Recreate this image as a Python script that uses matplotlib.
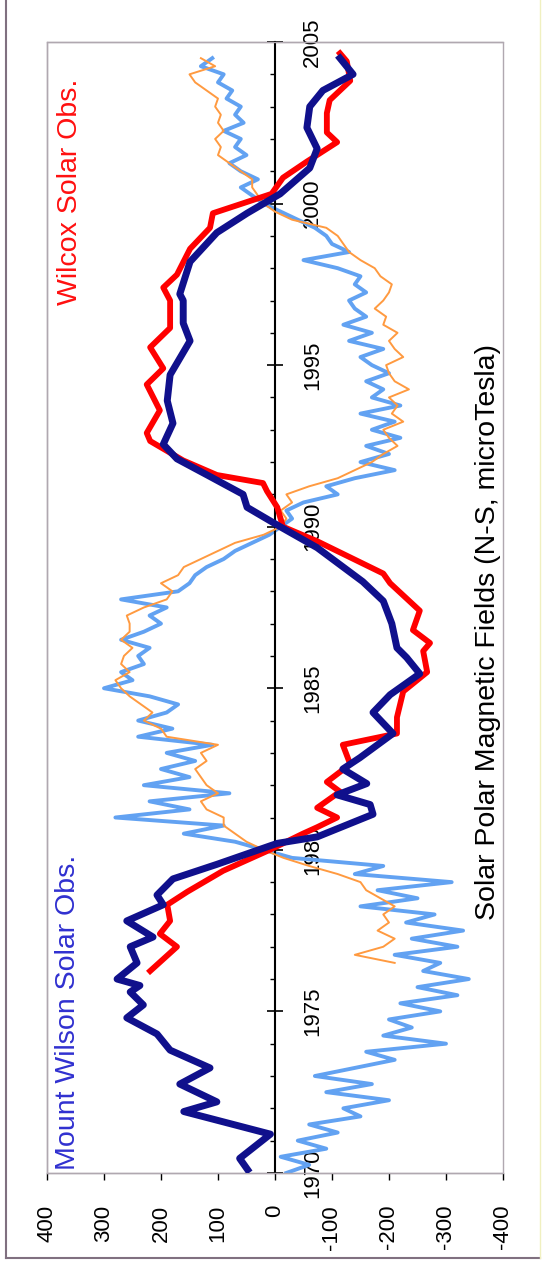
"""
Solar polar magnetic fields, Mount Wilson and Wilcox, drawn upright (time runs bottom to top)
"""
import numpy as np
import matplotlib.pyplot as plt
from matplotlib.lines import Line2D
from matplotlib.patches import Rectangle

plt.rcParams['font.family'] = ['Liberation Sans', 'DejaVu Sans']
plt.rcParams['axes.unicode_minus'] = False

# Mount Wilson, smoothed N-S field
mw_years = [1970.1, 1970.45, 1971.2, 1971.9, 1972.2, 1972.75, 1973.25, 1973.8, 1974.3, 1974.8,
            1975.2, 1975.6, 1975.8, 1976.0, 1976.5, 1977.0, 1977.3, 1977.8, 1978.3, 1978.6,
            1979.1, 1979.55, 1980.2, 1980.4, 1981.1, 1981.4, 1981.7, 1982.05, 1982.5, 1982.85,
            1983.6, 1984.25, 1984.8, 1985.45, 1985.95, 1986.25, 1987.0, 1987.7, 1988.3, 1989.35,
            1990.0, 1990.6, 1991.0, 1991.6, 1992.1, 1992.55, 1993.2, 1993.9, 1994.7, 1995.75,
            1996.3, 1997.0, 1997.2, 1998.2, 1999.1, 1999.7, 2000.3, 2001.1, 2001.7, 2002.35,
            2003.0, 2003.5, 2004.0, 2004.5]
mw_smooth = [48, 62, 8, 160, 102, 167, 114, 184, 207, 260,
             231, 254, 237, 277, 242, 254, 214, 260, 196, 207,
             179, 102, -4, -74, -172, -167, -109, -161, -119, -149,
             -207, -172, -202, -254, -231, -214, -205, -190, -154, -74,
             -9, 49, 56, 119, 172, 196, 179, 189, 184, 149,
             161, 161, 167, 149, 102, 49, -9, -61, -74, -56,
             -61, -84, -137, -114]

# Wilcox, smoothed N-S field
wso_years = [1976.25, 1977.0, 1977.4, 1977.8, 1978.3, 1978.7, 1979.35, 1980.0, 1980.5, 1980.7,
             1981.0, 1981.3, 1981.8, 1982.1, 1982.65, 1983.25, 1983.6, 1984.1, 1984.9, 1985.5,
             1986.15, 1986.4, 1986.8, 1987.4, 1988.25, 1988.55, 1989.05, 1989.55, 1990.0, 1990.6,
             1991.1, 1991.35, 1991.6, 1992.05, 1992.65, 1992.9, 1993.6, 1994.4, 1994.9, 1995.55,
             1996.15, 1997.0, 1997.4, 1997.8, 1998.6, 1999.25, 1999.7, 2000.3, 2000.8, 2001.3,
             2001.9, 2002.2, 2002.8, 2003.2, 2003.8, 2004.4, 2004.65]
wso_smooth = [219, 172, 202, 184, 189, 154, 91, 9, -49, -74,
              -109, -74, -114, -91, -132, -119, -214, -214, -225, -267,
              -260, -272, -242, -254, -202, -190, -132, -74, -14, -4,
              14, 21, 102, 161, 219, 225, 202, 225, 196, 219,
              184, 184, 196, 172, 149, 114, 109, 6, -14, -56,
              -109, -91, -91, -96, -132, -126, -114]

# raw quarterly readings
mw_raw_years = np.arange(1970.0, 2004.75, 0.25)
mw_raw = [-20, -60, -10, -90,
          -40, -110, -60, -150,
          -120, -200, -90, -170,
          -70, -140, -210, -160,
          -300, -190, -240, -200,
          -290, -220, -320, -250,
          -340, -260, -290, -210,
          -320, -240, -330, -230,
          -280, -150, -250, -180,
          -310, -140, -190, -30,
          20, 70, 160, 90,
          280, 150, 220, 80,
          230, 150, 200, 140,
          190, 110, 240, 180,
          240, 190, 170, 220,
          300, 250, 270, 230,
          240, 220, 270, 230,
          200, 220, 190, 270,
          170, 150, 140, 120,
          90, 70, 40, 10,
          -10, -30, -20, -50,
          -110, -90, -140, -210,
          -150, -200, -160, -220,
          -170, -210, -150, -220,
          -170, -190, -160, -200,
          -170, -150, -190, -130,
          -170, -120, -160, -140,
          -130, -160, -140, -150,
          -110, -50, -130, -100,
          -90, -70, -40, -10,
          20, 40, 60, 30,
          60, 80, 50, 70,
          60, 90, 55, 70,
          60, 85, 75, 100,
          90, 130, 110]

wso_raw_years = np.arange(1976.5, 2004.75, 0.25)
wso_raw = [-210, -140,
           -190, -210, -180, -200,
           -190, -210, -185, -160,
           -150, -110, -60, -15,
           20, 50, 70, 90,
           90, 120, 130, 100,
           120, 130, 140, 120,
           130, 100, 190, 200,
           230, 215, 235, 255,
           270, 280, 255, 270,
           265, 250, 270, 255,
           255, 260, 230, 190,
           180, 200, 170, 160,
           130, 100, 70, 20,
           -10, -20, -10, -30,
           -20, -60, -110, -140,
           -170, -190, -215, -200,
           -190, -225, -205, -215,
           -200, -235, -210, -200,
           -195, -225, -210, -200,
           -215, -190, -195, -175,
           -190, -200, -205, -185,
           -175, -150, -130, -120,
           -110, -90, -30, 0,
           20, 30, 40, 40,
           60, 80, 100, 95,
           105, 90, 100, 95,
           105, 100, 120, 140,
           150, 105, 130]

field_ticks = [400, 300, 200, 100, 0, -100, -200, -300, -400]
field_labels = [str(v) for v in field_ticks]
year_ticks = [1970, 1975, 1980, 1985, 1990, 1995, 2000, 2005]

fig = plt.figure(figsize=(5.42, 12.69), dpi=100)
ax = fig.add_axes([0.0867, 0.0757, 0.8413, 0.8912])

ax.plot(mw_raw, mw_raw_years, color='#62a2f2', lw=2.8, zorder=2, solid_joinstyle='round')
ax.plot(wso_raw, wso_raw_years, color='#ff9a40', lw=1.4, zorder=3)
ax.plot(wso_smooth, wso_years, color='#ff0000', lw=4.2, zorder=4, solid_joinstyle='round')
ax.plot(mw_smooth, mw_years, color='#10108c', lw=5, zorder=5, solid_joinstyle='round')

ax.set_xlim(400, -400)
ax.set_ylim(1970, 2005)

# value axis along the bottom, labels turned sideways
ax.set_xticks(field_ticks)
ax.set_xticklabels(field_labels)
ax.tick_params(axis='x', direction='out', length=5, width=1, color='black',
               labelsize=16, labelrotation=90, pad=18)

# year axis sits on the zero line, labels on its right
for side in ['top', 'left', 'bottom']:
    ax.spines[side].set_color('#b0a8b0')
    ax.spines[side].set_linewidth(1)
ax.spines['right'].set_position(('data', 0))
ax.spines['right'].set_color('black')
ax.spines['right'].set_linewidth(1.5)
ax.yaxis.tick_right()
ax.set_yticks(year_ticks)
ax.set_yticks(range(1970, 2006), minor=True)
ax.tick_params(axis='y', which='major', direction='inout', length=11, width=1.2,
               labelsize=16, pad=14)
ax.tick_params(axis='y', which='minor', direction='in', length=3.5, width=1)
for lbl in ax.get_yticklabels():
    lbl.set_rotation(90)
    lbl.set_va('center')
    lbl.set_ha('left')

# right edge of the plot box
ax.add_patch(Rectangle((0, 0), 1, 1, transform=ax.transAxes, fill=False,
                       edgecolor='#b0a8b0', lw=1, zorder=1, clip_on=False))

ax.text(0.046, 0.003, 'Mount Wilson Solar Obs.', transform=ax.transAxes, rotation=90,
        ha='center', va='bottom', fontsize=20.5, color='#3030d0')
ax.text(0.05, 0.968, 'Wilcox Solar Obs.', transform=ax.transAxes, rotation=90,
        ha='center', va='top', fontsize=20.5, color='#ff1010')
ax.text(0.967, 0.478, 'Solar Polar Magnetic Fields (N-S, microTesla)', transform=ax.transAxes,
        rotation=90, ha='center', va='center', fontsize=20.5, color='black')

# outer frame
fig.add_artist(Line2D([0.011, 0.011], [0.0087, 1.0], color='#807080', lw=1.5))
fig.add_artist(Line2D([0.011, 0.9963], [0.0087, 0.0087], color='#807080', lw=1.5))
fig.add_artist(Line2D([0.9963, 0.9963], [0.0087, 1.0], color='#f0f0c0', lw=1))

fig.savefig('out.png', dpi=100)
